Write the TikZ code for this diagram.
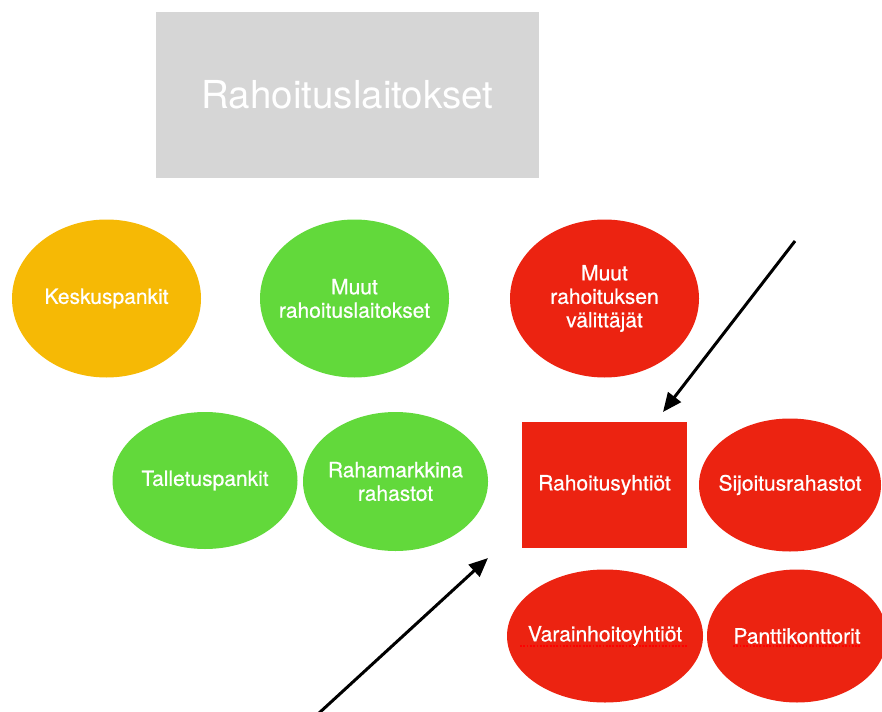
\documentclass[tikz,border=0pt]{standalone}
\usepackage{fontspec}
\setmainfont{TeX Gyre Heros}
\newfontfamily\heavyfont[FakeBold=0.6]{TeX Gyre Heros}
\usetikzlibrary{shapes.geometric,arrows.meta}
\definecolor{boxgray}{HTML}{D6D6D6}
\definecolor{korange}{HTML}{F6B905}
\definecolor{kgreen}{HTML}{62D93B}
\definecolor{kred}{HTML}{EC2311}
\definecolor{squig}{HTML}{FF0000}
\tikzset{
  txt/.style={text=white, align=center, inner sep=0pt,
    font=\heavyfont\fontsize{21}{23.5}\selectfont},
  oval/.style={ellipse, inner sep=0pt},
  rectbox/.style={rectangle, txt},
  arr/.style={line width=3pt, -{Triangle[length=19pt,width=16pt]}},
  squiggle/.style={squig, line width=1.8pt, dash pattern=on 1.8pt off 1.5pt}
}
\begin{document}
\begin{tikzpicture}[x=1pt,y=-1pt]
\useasboundingbox (0,0) rectangle (882,711);
% title box
\node[rectbox, fill=boxgray, minimum width=383pt, minimum height=166pt,
  font=\rmfamily\fontsize{38.5}{44}\selectfont] (title) at (347.5,95) {Rahoituslaitokset};
% top row
\node[oval, fill=korange, minimum width=189pt, minimum height=158pt,
  label={[txt]center:Keskuspankit}] (kesk) at (106.5,298.5) {};
\node[oval, fill=kgreen, minimum width=189pt, minimum height=158pt,
  label={[txt]center:Muut\\rahoituslaitokset}] (muutrl) at (354.5,298.5) {};
\node[oval, fill=kred, minimum width=189pt, minimum height=158pt,
  label={[txt]center:Muut\\rahoituksen\\välittäjät}] (muutrv) at (604.5,298.5) {};
% middle row
\node[oval, fill=kgreen, minimum width=185pt, minimum height=137pt,
  label={[txt]center:Talletuspankit}] (tall) at (205,480.5) {};
\node[oval, fill=kgreen, minimum width=185pt, minimum height=139pt,
  label={[txt]center:Rahamarkkina\\rahastot}] (raham) at (395.5,481.5) {};
\node[rectbox, fill=kred, minimum width=165pt, minimum height=126pt] (rahoy) at (604.5,485) {Rahoitusyhtiöt};
\node[oval, fill=kred, minimum width=182pt, minimum height=133pt,
  label={[txt]center:Sijoitusrahastot}] (sijo) at (790,485) {};
% bottom row
\node[oval, fill=kred, minimum width=196pt, minimum height=133pt,
  label={[txt]center:Varainhoitoyhtiöt}] (varain) at (605,636) {};
\node[oval, fill=kred, minimum width=180pt, minimum height=133pt,
  label={[txt]center:Panttikonttorit}] (pantti) at (797,636) {};
% spell-check underlines
\draw[squiggle] ([xshift=-85pt,yshift=-10pt]varain.center) -- ([xshift=83pt,yshift=-10pt]varain.center);
\draw[squiggle] ([xshift=-64pt,yshift=-10pt]pantti.center) -- ([xshift=64pt,yshift=-10pt]pantti.center);
% arrows
\coordinate (a1s) at (795,241);
\coordinate (a1e) at (663,412);
\coordinate (a2s) at (318,714);
\coordinate (a2e) at (488,558);
\draw[arr] (a1s) -- (a1e);
\draw[arr] (a2s) -- (a2e);
\end{tikzpicture}
\end{document}
